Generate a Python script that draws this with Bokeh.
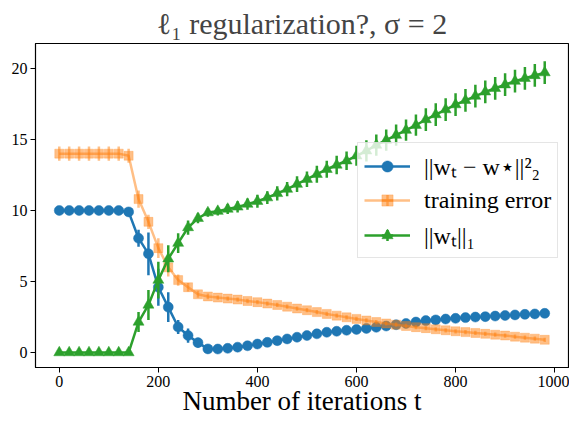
import numpy as np
from bokeh.plotting import figure
from bokeh.models import ColumnDataSource, Range1d, Legend, LegendItem, FixedTicker
from bokeh.embed import file_html
from bokeh.resources import INLINE

# ---- data ----
iterations = [0, 20, 40, 60, 80, 100, 120, 140, 160, 180,
              200, 220, 240, 260, 280, 300, 320, 340, 360, 380,
              400, 420, 440, 460, 480, 500, 520, 540, 560, 580,
              600, 620, 640, 660, 680, 700, 720, 740, 760, 780,
              800, 820, 840, 860, 880, 900, 920, 940, 960, 980]

dist_sq = [10.0, 10.0, 10.0, 10.0, 10.0, 10.0, 10.0, 9.9, 8.05, 6.95,
           4.6, 3.2, 1.8, 1.2, 0.7, 0.26, 0.25, 0.3, 0.38, 0.48,
           0.6, 0.72, 0.84, 0.96, 1.08, 1.2, 1.32, 1.43, 1.5, 1.57,
           1.63, 1.7, 1.78, 1.87, 1.96, 2.05, 2.15, 2.25, 2.3, 2.36,
           2.41, 2.46, 2.5, 2.53, 2.57, 2.61, 2.65, 2.69, 2.72, 2.76]
dist_err = [0.05, 0.05, 0.05, 0.05, 0.05, 0.05, 0.05, 0.1, 0.6, 1.5,
            1.3, 1.05, 0.5, 0.5, 0.35, 0.2, 0.12, 0.1, 0.1, 0.1,
            0.1, 0.1, 0.1, 0.1, 0.1, 0.1, 0.1, 0.1, 0.1, 0.1,
            0.1, 0.1, 0.1, 0.1, 0.1, 0.1, 0.1, 0.1, 0.1, 0.1,
            0.1, 0.1, 0.1, 0.1, 0.1, 0.1, 0.1, 0.1, 0.1, 0.1]

train_err = [14.0, 14.0, 14.0, 14.0, 14.0, 14.0, 14.0, 13.85, 10.8, 9.2,
             7.35, 6.0, 5.1, 4.6, 4.1, 3.95, 3.87, 3.8, 3.73, 3.63,
             3.55, 3.45, 3.35, 3.23, 3.1, 2.98, 2.85, 2.72, 2.6, 2.48,
             2.37, 2.26, 2.15, 2.05, 1.96, 1.87, 1.79, 1.72, 1.64, 1.57,
             1.5, 1.44, 1.38, 1.32, 1.26, 1.2, 1.12, 1.05, 0.98, 0.9]
train_sd = [0.5, 0.5, 0.5, 0.5, 0.5, 0.5, 0.5, 0.5, 0.6, 0.5,
            0.7, 0.65, 0.4, 0.3, 0.25, 0.2, 0.15, 0.15, 0.15, 0.15,
            0.15, 0.15, 0.15, 0.15, 0.15, 0.15, 0.15, 0.15, 0.15, 0.15,
            0.15, 0.15, 0.15, 0.15, 0.15, 0.15, 0.15, 0.15, 0.15, 0.15,
            0.15, 0.15, 0.15, 0.15, 0.15, 0.15, 0.15, 0.15, 0.15, 0.15]

l1_norm = [0.0, 0.0, 0.0, 0.0, 0.0, 0.0, 0.0, 0.0, 2.15, 3.35,
           5.1, 6.6, 7.7, 8.8, 9.45, 9.85, 9.95, 10.1, 10.25, 10.45,
           10.65, 10.9, 11.2, 11.5, 11.85, 12.2, 12.55, 12.9, 13.2, 13.5,
           13.85, 14.2, 14.6, 14.95, 15.3, 15.65, 16.0, 16.4, 16.75, 17.1,
           17.45, 17.75, 18.05, 18.35, 18.6, 18.85, 19.1, 19.3, 19.5, 19.7]
l1_err = [0.02, 0.02, 0.02, 0.02, 0.02, 0.02, 0.02, 0.02, 0.7, 1.05,
          1.3, 0.95, 0.7, 0.5, 0.35, 0.3, 0.3, 0.35, 0.4, 0.4,
          0.45, 0.45, 0.5, 0.5, 0.55, 0.55, 0.6, 0.6, 0.65, 0.65,
          0.7, 0.75, 0.75, 0.75, 0.75, 0.75, 0.75, 0.8, 0.8, 0.8,
          0.8, 0.8, 0.8, 0.8, 0.8, 0.8, 0.8, 0.8, 0.8, 0.8]

x_ticks = [0, 200, 400, 600, 800, 1000]
y_ticks = [0, 5, 10, 15, 20]

title_text = "ℓ₁ regularization?, σ = 2"
xlabel_text = "Number of iterations t"
labels = ["||wₜ − w⋆||²₂", "training error", "||wₜ||₁"]
colors = ["#1f77b4", "#ff7f0e", "#2ca02c"]
alphas = [1.0, 0.5, 1.0]
markers = ["circle", "square", "triangle"]
msizes = [10, 9, 11]

SERIF = "Liberation Serif"

p = figure(width=569, height=420, output_backend="svg", toolbar_location=None,
           x_range=Range1d(-48, 1028), y_range=Range1d(-1.05, 21.75),
           min_border_left=35, min_border_right=1, min_border_bottom=53,
           min_border_top=5)
p.title.text = title_text
p.title.text_font = SERIF
p.title.text_font_size = "30px"
p.title.text_font_style = "normal"
p.title.align = "center"
p.title.standoff = 8

p.xgrid.visible = False
p.ygrid.visible = False
p.outline_line_color = "black"
p.outline_line_width = 1.2

for ax in (p.xaxis[0], p.yaxis[0]):
    ax.major_tick_in = 0
    ax.major_tick_out = 5
    ax.minor_tick_in = 0
    ax.minor_tick_out = 0
    ax.axis_line_color = "black"
    ax.major_tick_line_color = "black"
    ax.major_label_text_font = SERIF
    ax.major_label_text_font_size = "16px"
    ax.major_label_text_color = "black"
    ax.major_label_standoff = 3
p.xaxis.ticker = FixedTicker(ticks=x_ticks)
p.yaxis.ticker = FixedTicker(ticks=y_ticks)
p.xaxis.axis_label = xlabel_text
p.xaxis.axis_label_text_font = SERIF
p.xaxis.axis_label_text_font_size = "27px"
p.xaxis.axis_label_text_font_style = "normal"
p.xaxis.axis_label_text_color = "black"
p.xaxis.axis_label_standoff = -4

series = [dist_sq, train_err, l1_norm]
errs = [dist_err, train_sd, l1_err]
items = []
for lab, ys, es, c, a, m, s in zip(labels, series, errs, colors, alphas, markers, msizes):
    ys = np.array(ys)
    es = np.array(es)
    src = ColumnDataSource(dict(x=iterations, y=ys, lo=ys - es, hi=ys + es))
    p.segment(x0="x", y0="lo", x1="x", y1="hi", source=src,
              line_color=c, line_alpha=a, line_width=2.5)
    ln = p.line(x="x", y="y", source=src, line_color=c, line_alpha=a, line_width=2.5)
    sc = p.scatter(x="x", y="y", source=src, marker=m, size=s,
                   fill_color=c, line_color=c, fill_alpha=a, line_alpha=a, line_width=0.5)
    bar = p.scatter(x=[np.nan], y=[np.nan], marker="cross", size=24,
                    line_color=c, line_alpha=a, line_width=2.5)
    items.append(LegendItem(label=lab, renderers=[ln, bar, sc]))

legend = Legend(items=items, location=(322, 109), margin=0)
legend.label_text_font = SERIF
legend.label_text_font_size = "24px"
legend.label_text_color = "black"
legend.glyph_width = 46
legend.glyph_height = 28
legend.label_standoff = 14
legend.spacing = 4
legend.padding = 6
legend.border_line_color = "#cccccc"
legend.border_line_width = 1
legend.background_fill_alpha = 0.8
p.add_layout(legend, "center")

open("out.html", "w").write(file_html(p, INLINE))
